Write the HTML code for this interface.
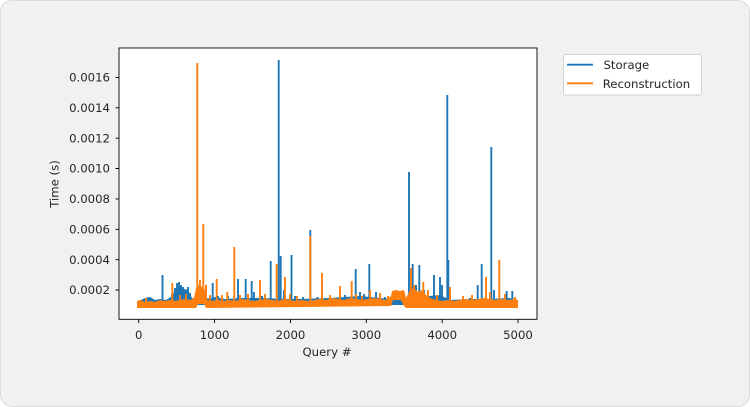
<!DOCTYPE html>
<html><head><meta charset="utf-8"><style>
html,body{margin:0;padding:0;background:#fff;}
.card{position:absolute;left:0;top:0;width:748px;height:405px;background:#f1f1f1;border:1px solid #dcdcdc;border-radius:12px;overflow:hidden;}
svg{position:absolute;left:0;top:0;}
text{font-family:"DejaVu Sans","Liberation Sans",sans-serif;fill:#262626;}
</style></head><body>
<div class="card"></div>
<svg width="750" height="407" viewBox="0 0 750 407" xmlns="http://www.w3.org/2000/svg">
<rect x="119" y="48" width="418" height="271.3" fill="#fff"/>
<!-- blue band -->
<polygon fill="#1f77b4" points="137,302 145,298 150,297 155,300 160,299 166,300 172,296 176,288 180,286 184,289 188,290 192,298 200,300 215,297 225,299 240,298 260,298 290,299 300,299 330,298 345,297 360,296 380,298 392,299 405,299 420,297 440,295 450,300 470,299 490,299 510,298 518,300 518,305 137,305"/>
<g stroke="#1f77b4" stroke-width="1.9" fill="none">
<path d="M162.5 303V275M172 303V294M175 303V288M177 303V283M179 303V282M181 303V285M183 303V287M185 303V290M188 303V287M190 303V293M200 303V294M206 303V285M212.7 303V283M218 303V296M228 303V296M238 303V279M245.7 303V279M251.7 303V281M254 303V292M262 303V296M270.7 303V261M278.7 303V60M280.7 303V256M284 303V290M291.5 303V255M295 303V296M303 303V297M310.3 303V230M317.3 303V297M330 303V298M345 303V295M355.7 303V269M360 303V292M364 303V294M369.3 303V264M376 303V292M385 303V297M409 303V172M412.7 303V264M416 303V285M419.3 303V265M424 303V290M434 303V275M440 303V277M442 303V285M447.3 303V95M448.3 303V260M456 303V300M470 303V298M477.7 303V285M481.7 303V264M491.3 303V147M494 303V290M506.7 303V291M512.3 303V291"/>
</g>
<!-- orange band -->
<polygon fill="#ff7f0e" points="137,301 140,300 145,302 150,301 155,302 160,300 165,301 170,300 175,301 180,300 185,299 190,300 194,298 196,288 199,285 202,287 205,290 207,300 212,301 218,300 224,301 230,300 236,301 242,299 248,300 254,301 260,300 266,299 272,300 278,301 284,299 290,300 296,301 302,300 308,301 314,300 320,299 326,300 332,298 338,299 344,300 350,298 356,299 362,300 368,299 374,298 380,299 386,300 391,296 392,291 396,290 400,291 404,290 406,298 410,290 414,288 418,292 422,290 426,295 430,298 436,300 442,301 448,300 454,301 460,300 466,299 472,300 478,299 484,298 490,299 496,300 502,299 508,300 514,299 518,300 518,308 406,308 404,306 401,300 393,300 391,306 206,308 204,304 198,304 196,308 137,308"/>
<g stroke="#ff7f0e" stroke-width="1.9" fill="none">
<path d="M140 304V300M146 304V298M172.3 304V283M180 304V295M186 304V294M197.3 304V63M200 304V280M203.3 304V224M206 304V285M210 304V295M216.7 304V279M222 304V295M227.3 304V292M234.3 304V247M240 304V295M248 304V294M260 304V280M265 304V294M276.7 304V264M285 304V277M290 304V294M297 304V296M310.3 304V236M322 304V273M330 304V295M340 304V286M351.7 304V281M356 304V294M362 304V296M370 304V290M380 304V293M388 304V296M411 304V268M414 304V285M423.3 304V282M428 304V290M437 304V295M450 304V287M463 304V296M472 304V295M486 304V277M490 304V292M499.3 304V260M505 304V294M515 304V297"/>
</g>
<!-- axes frame -->
<rect x="119" y="48" width="418" height="271.3" fill="none" stroke="#000" stroke-width="0.9"/>
<!-- ticks -->
<g stroke="#000" stroke-width="0.9">
<path d="M115.5 77.4H119M115.5 107.8H119M115.5 138.2H119M115.5 168.5H119M115.5 198.9H119M115.5 229.3H119M115.5 259.7H119M115.5 290H119"/>
<path d="M138.7 319.3V323M214.6 319.3V323M290.5 319.3V323M366.3 319.3V323M442.2 319.3V323M518 319.3V323"/>
</g>
<g font-size="11.7" text-anchor="end">
<text x="110" y="81.6">0.0016</text>
<text x="110" y="112">0.0014</text>
<text x="110" y="142.4">0.0012</text>
<text x="110" y="172.7">0.0010</text>
<text x="110" y="203.1">0.0008</text>
<text x="110" y="233.5">0.0006</text>
<text x="110" y="263.9">0.0004</text>
<text x="110" y="294.2">0.0002</text>
</g>
<g font-size="11.7" text-anchor="middle">
<text x="138.7" y="339">0</text>
<text x="214.6" y="339">1000</text>
<text x="290.5" y="339">2000</text>
<text x="366.3" y="339">3000</text>
<text x="442.2" y="339">4000</text>
<text x="518" y="339">5000</text>
<text x="327" y="356">Query #</text>
<text transform="translate(58.5,184) rotate(-90)">Time (s)</text>
</g>
<!-- legend -->
<rect x="563.5" y="54.5" width="138" height="40.5" rx="2" fill="#fff" stroke="#d0d0d0" stroke-width="0.9"/>
<path d="M567 64.7H593" stroke="#1f77b4" stroke-width="1.9"/>
<path d="M567 83.3H593" stroke="#ff7f0e" stroke-width="1.9"/>
<text x="603.5" y="69" font-size="11.7">Storage</text>
<text x="602.7" y="88" font-size="11.7">Reconstruction</text>
</svg>
</body></html>
